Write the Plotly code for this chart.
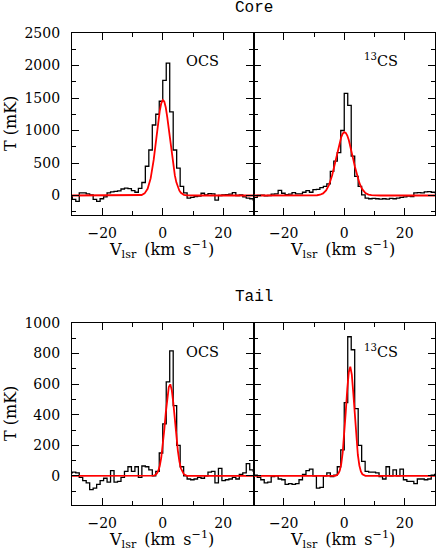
import plotly.graph_objects as go

# ---------------- data ----------------
VELOCITY = [-30.48, -29.33, -28.18, -27.03, -25.88, -24.73, -23.58, -22.43, -21.28, -20.13,
            -18.98, -17.83, -16.68, -15.53, -14.38, -13.23, -12.08, -10.93, -9.78, -8.63,
            -7.48, -6.33, -5.18, -4.03, -2.88, -1.73, -0.58, 0.58, 1.73, 2.88,
            4.03, 5.18, 6.33, 7.48, 8.63, 9.78, 10.93, 12.08, 13.23, 14.38,
            15.53, 16.68, 17.83, 18.98, 20.13, 21.28, 22.43, 23.58, 24.73, 25.88,
            27.03, 28.18, 29.33, 30.48]

OCS_CORE = [-10, -60, -90, 40, 40, 25, 10, -60, -90, -50,
            -20, 40, 55, 65, 70, 100, 115, 105, 75, 50,
            110, 200, 450, 700, 1085, 1250, 1450, 1770, 2035, 1285,
            700, 420, 140, 40, -40, -30, -15, -10, 35, 10,
            30, 25, -70, 0, 10, 15, 20, 45, 0, 10,
            -20, -40, -50, -70]

CS13_CORE = [-40, -30, 0, 5, -5, 0, 20, 25, 80, 35,
             15, 20, 45, 25, 25, 50, 75, 50, 90, 95,
             120, 140, 180, 370, 530, 660, 1000, 1570, 1385, 605,
             295, 140, 10, -40, -50, -45, -50, -55, -50, -55,
             -45, -50, -40, -30, -20, -10, -15, 40, 45, 40,
             55, 60, 50, 45]

OCS_TAIL = [20, 25, 20, -10, -30, -45, -90, -80, -55, -30,
            -15, -40, 35, -40, -35, -10, 30, 60, 30, 60,
            -10, 65, 60, 40, 0, 30, 150, 340, 615, 818,
            460, 200, 60, 0, -20, -25, -20, -10, -15, 0,
            25, 30, -45, 50, -30, -25, -20, -10, -20, 10,
            20, 80, 40, 30]

CS13_TAIL = [0, 5, -10, -25, -45, -40, -5, 0, -20, -25,
             -55, -50, -55, -50, -25, 10, 35, 45, 0, -80,
             -75, 0, 20, -5, 5, 60, 170, 480, 910, 825,
             440, 200, 95, 30, 25, 25, 20, -5, -20, 60,
             0, 40, 0, 45, -25, -35, -35, -50, -20, -20,
             -25, -20, 5, 10]

FIT_VELOCITY = [-30, -12, -10, -9, -8, -7, -6, -5, -4, -3.5, -3, -2.5, -2, -1.5, -1, -0.5,
                0, 0.5, 1, 1.5, 2, 2.5, 3, 3.5, 4, 4.5, 5, 5.5, 6, 7, 8, 9, 10, 12, 30]

FIT_OCS_CORE = [0, 0, 0, 0, 2, 8, 32, 102, 263, 389, 548, 735, 935, 1130, 1298, 1417,
                1468, 1446, 1353, 1202, 1015, 814, 620, 449, 309, 202, 125, 74, 41, 11, 2, 0, 0, 0, 0]
FIT_CS13_CORE = [0, 0, 1, 4, 12, 32, 79, 168, 313, 406, 509, 617, 724, 820, 898, 952,
                 975, 964, 923, 854, 764, 661, 552, 447, 349, 264, 193, 136, 93, 39, 14, 5, 1, 0, 0]
FIT_OCS_TAIL = [0, 0, 0, 0, 0, 0, 0, 0, 0, 1, 2, 6, 15, 32, 65, 119,
                199, 300, 412, 514, 582, 599, 560, 476, 367, 257, 164, 95, 50, 10, 1, 0, 0, 0, 0]
FIT_CS13_TAIL = [0, 0, 0, 0, 0, 0, 0, 0, 0, 0, 1, 5, 14, 35, 78, 155,
                 272, 419, 568, 679, 714, 662, 540, 388, 245, 137, 67, 29, 11, 1, 0, 0, 0, 0, 0]

PANEL_LABELS = ["OCS", "<sup>13</sup>CS", "OCS", "<sup>13</sup>CS"]
ROW_TITLES = ["Core", "Tail"]
Y_LABEL = "T (mK)"
X_LABEL = "V<sub>lsr</sub>\u2002(km\u2002s<sup>\u22121</sup>)"

# ---------------- layout geometry ----------------
W, H = 436, 550
ML, MR, MT, MB = 72, 1, 33, 45
PW = W - ML - MR
PH = H - MT - MB


def px_x(p):
    return (p - ML) / PW


def px_y(p):
    return (H - MB - p) / PH


SERIF = "DejaVu Serif"
TOP_DOM = [px_y(215), 1.0]
BOT_DOM = [0.0, px_y(323)]

fig = go.Figure()
panels = [("x", "y", OCS_CORE, FIT_OCS_CORE),
          ("x2", "y2", CS13_CORE, FIT_CS13_CORE),
          ("x3", "y3", OCS_TAIL, FIT_OCS_TAIL),
          ("x4", "y4", CS13_TAIL, FIT_CS13_TAIL)]
for xa, ya, obs, fit in panels:
    fig.add_trace(go.Scatter(x=VELOCITY, y=obs, mode="lines",
                             line=dict(color="black", width=1.3, shape="hvh"),
                             xaxis=xa, yaxis=ya, showlegend=False, hoverinfo="skip"))
    fig.add_trace(go.Scatter(x=FIT_VELOCITY, y=fit, mode="lines",
                             line=dict(color="#ff0000", width=1.8),
                             xaxis=xa, yaxis=ya, showlegend=False, hoverinfo="skip"))


def axis(**kw):
    base = dict(showline=True, linecolor="black", linewidth=1.3, mirror="ticks",
                ticks="inside", ticklen=7, tickwidth=1.2, tickcolor="black",
                showgrid=False, zeroline=False, tickmode="linear", tick0=0,
                tickfont=dict(family=SERIF, size=14, color="black"))
    base.update(kw)
    return base


def minor(d):
    return dict(ticks="inside", ticklen=4, tickwidth=1.2, tickcolor="black",
                dtick=d, tick0=0, showgrid=False)


xcommon = dict(range=[-30, 30], dtick=20, minor=minor(10), ticklabelstandoff=5)
fig.update_layout(
    xaxis=axis(domain=[0, 0.5], anchor="y", **xcommon),
    xaxis2=axis(domain=[0.5, 1], anchor="y2", **xcommon),
    xaxis3=axis(domain=[0, 0.5], anchor="y3", **xcommon),
    xaxis4=axis(domain=[0.5, 1], anchor="y4", **xcommon),
    yaxis=axis(domain=TOP_DOM, anchor="x", range=[-300, 2500], dtick=500,
               minor=minor(250), ticklabelstandoff=8),
    yaxis2=axis(domain=TOP_DOM, anchor="x2", range=[-300, 2500], dtick=500,
                minor=minor(250), showticklabels=False),
    yaxis3=axis(domain=BOT_DOM, anchor="x3", range=[-190, 1000], dtick=200,
                minor=minor(100), ticklabelstandoff=8),
    yaxis4=axis(domain=BOT_DOM, anchor="x4", range=[-190, 1000], dtick=200,
                minor=minor(100), showticklabels=False),
)

ann = []
# row titles
for title, py in zip(ROW_TITLES, [8, 297]):
    ann.append(dict(text=title, x=px_x(254), y=px_y(py), xref="paper", yref="paper",
                    xanchor="center", yanchor="middle", showarrow=False,
                    font=dict(family="Liberation Mono", size=16, color="black")))
# panel labels
for i, lab in enumerate(PANEL_LABELS):
    cx = 202 if i % 2 == 0 else 381
    by = 71 if i < 2 else 362
    ann.append(dict(text=lab, x=px_x(cx), y=px_y(by), xref="paper", yref="paper",
                    xanchor="center", yanchor="bottom", showarrow=False,
                    font=dict(family=SERIF, size=14.5, color="black")))
# y titles
for py in [124, 414]:
    ann.append(dict(text=Y_LABEL, x=px_x(10), y=px_y(py), xref="paper", yref="paper",
                    xanchor="center", yanchor="middle", textangle=-90, showarrow=False,
                    font=dict(family=SERIF, size=16, color="black")))
# x titles
for px in [161, 342]:
    for py in [249, 539]:
        ann.append(dict(text=X_LABEL, x=px_x(px), y=px_y(py), xref="paper", yref="paper",
                        xanchor="center", yanchor="middle", showarrow=False,
                        font=dict(family=SERIF, size=16, color="black")))

fig.update_layout(annotations=ann, width=W, height=H,
                  margin=dict(l=ML, r=MR, t=MT, b=MB, pad=0),
                  paper_bgcolor="white", plot_bgcolor="white", showlegend=False)

fig.write_html("out.html", config={"displayModeBar": False},
               post_script="document.body.style.margin='0';document.body.style.padding='0';")
